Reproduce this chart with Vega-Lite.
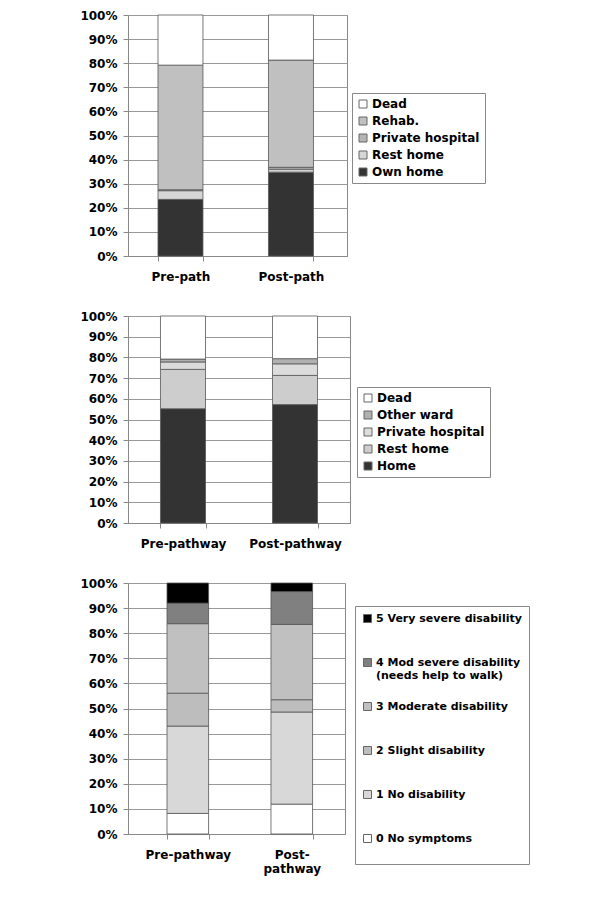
{
  "$schema": "https://vega.github.io/schema/vega-lite/v6.json",
  "background": "white",
  "padding": {"left": 79, "top": 8, "right": 5, "bottom": 5},
  "spacing": 60,
  "bounds": "flush",
  "config": {
    "view": {"stroke": "#888"},
    "axis": {"labelFont": "DejaVu Sans", "labelFontWeight": "bold", "labelFontSize": 12, "labelColor": "#000", "domainColor": "#888", "tickColor": "#888", "gridColor": "#999", "title": null},
    "legend": {"labelFont": "DejaVu Sans", "labelFontWeight": "bold", "labelFontSize": 12, "labelColor": "#000", "symbolType": "square", "symbolSize": 64, "symbolStrokeColor": "#666", "symbolStrokeWidth": 1, "strokeColor": "#888", "padding": 5, "fillColor": "white", "rowPadding": 5, "labelOffset": 3, "orient": "none"}
  },
  "resolve": {"scale": {"color": "independent", "x": "independent"}, "legend": {"color": "independent"}},
  "vconcat": [
    {
      "width": 219, "height": 241,
      "data": {"values": [
        {"period": "Pre-path", "dest": "Own home", "pct": 23.5},
        {"period": "Pre-path", "dest": "Rest home", "pct": 3.6},
        {"period": "Pre-path", "dest": "Private hospital", "pct": 0.4},
        {"period": "Pre-path", "dest": "Rehab.", "pct": 51.7},
        {"period": "Pre-path", "dest": "Dead", "pct": 20.8},
        {"period": "Post-path", "dest": "Own home", "pct": 34.8},
        {"period": "Post-path", "dest": "Rest home", "pct": 1.2},
        {"period": "Post-path", "dest": "Private hospital", "pct": 0.8},
        {"period": "Post-path", "dest": "Rehab.", "pct": 44.5},
        {"period": "Post-path", "dest": "Dead", "pct": 18.7}
      ]},
      "transform": [{"calculate": "indexof(['Own home','Rest home','Private hospital','Rehab.','Dead'], datum.dest)", "as": "rank"}],
      "mark": {"type": "bar", "stroke": "#555", "strokeWidth": 0.8},
      "encoding": {
        "x": {"field": "period", "type": "nominal", "sort": ["Pre-path", "Post-path"], "scale": {"paddingInner": 0.593, "paddingOuter": 0.2875, "align": 0.472},
              "axis": {"labelAngle": 0, "tickBand": "extent", "labelPadding": 10, "tickSize": 5}},
        "y": {"field": "pct", "type": "quantitative", "stack": "normalize",
              "axis": {"format": "%", "values": [0,0.1,0.2,0.3,0.4,0.5,0.6,0.7,0.8,0.9,1], "grid": true, "tickSize": 5, "labelPadding": 6}},
        "color": {"field": "dest", "type": "nominal",
                  "scale": {"domain": ["Dead", "Rehab.", "Private hospital", "Rest home", "Own home"], "range": ["#ffffff", "#c0c0c0", "#b4b4b4", "#d6d6d6", "#333333"]},
                  "legend": {"title": null, "legendX": 224, "legendY": 78}},
        "order": {"field": "rank", "type": "quantitative"}
      }
    },
    {
      "width": 222, "height": 207,
      "data": {"values": [
        {"period": "Pre-pathway", "dest": "Home", "pct": 55.2},
        {"period": "Pre-pathway", "dest": "Rest home", "pct": 19.0},
        {"period": "Pre-pathway", "dest": "Private hospital", "pct": 3.6},
        {"period": "Pre-pathway", "dest": "Other ward", "pct": 1.4},
        {"period": "Pre-pathway", "dest": "Dead", "pct": 20.8},
        {"period": "Post-pathway", "dest": "Home", "pct": 57.2},
        {"period": "Post-pathway", "dest": "Rest home", "pct": 14.1},
        {"period": "Post-pathway", "dest": "Private hospital", "pct": 5.6},
        {"period": "Post-pathway", "dest": "Other ward", "pct": 2.5},
        {"period": "Post-pathway", "dest": "Dead", "pct": 20.6}
      ]},
      "transform": [{"calculate": "indexof(['Home','Rest home','Private hospital','Other ward','Dead'], datum.dest)", "as": "rank"}],
      "mark": {"type": "bar", "stroke": "#555", "strokeWidth": 0.8},
      "encoding": {
        "x": {"field": "period", "type": "nominal", "sort": ["Pre-pathway", "Post-pathway"], "scale": {"paddingInner": 0.598, "paddingOuter": 0.29, "align": 0.5},
              "axis": {"labelAngle": 0, "tickBand": "extent", "labelPadding": 10, "tickSize": 5}},
        "y": {"field": "pct", "type": "quantitative", "stack": "normalize",
              "axis": {"format": "%", "values": [0,0.1,0.2,0.3,0.4,0.5,0.6,0.7,0.8,0.9,1], "grid": true, "tickSize": 5, "labelPadding": 6}},
        "color": {"field": "dest", "type": "nominal",
                  "scale": {"domain": ["Dead", "Other ward", "Private hospital", "Rest home", "Home"], "range": ["#ffffff", "#b0b0b0", "#dcdcdc", "#cdcdcd", "#333333"]},
                  "legend": {"title": null, "legendX": 229, "legendY": 71}},
        "order": {"field": "rank", "type": "quantitative"}
      }
    },
    {
      "width": 217, "height": 251,
      "data": {"values": [
        {"period": "Pre-pathway", "level": 0, "status": "0 No symptoms", "pct": 8.2},
        {"period": "Pre-pathway", "level": 1, "status": "1 No disability", "pct": 34.8},
        {"period": "Pre-pathway", "level": 2, "status": "2 Slight disability", "pct": 13.1},
        {"period": "Pre-pathway", "level": 3, "status": "3 Moderate disability", "pct": 27.7},
        {"period": "Pre-pathway", "level": 4, "status": "4 Mod severe disability", "pct": 8.2},
        {"period": "Pre-pathway", "level": 5, "status": "5 Very severe disability", "pct": 8.0},
        {"period": "Post-pathway", "level": 0, "status": "0 No symptoms", "pct": 11.9},
        {"period": "Post-pathway", "level": 1, "status": "1 No disability", "pct": 36.7},
        {"period": "Post-pathway", "level": 2, "status": "2 Slight disability", "pct": 4.9},
        {"period": "Post-pathway", "level": 3, "status": "3 Moderate disability", "pct": 30.0},
        {"period": "Post-pathway", "level": 4, "status": "4 Mod severe disability", "pct": 13.1},
        {"period": "Post-pathway", "level": 5, "status": "5 Very severe disability", "pct": 3.4}
      ]},
      "mark": {"type": "bar", "stroke": "#555", "strokeWidth": 0.8},
      "encoding": {
        "x": {"field": "period", "type": "nominal", "sort": ["Pre-pathway", "Post-pathway"], "scale": {"paddingInner": 0.6, "paddingOuter": 0.3435, "align": 0.546},
              "axis": {"labelAngle": 0, "tickBand": "extent", "labelPadding": 10, "tickSize": 5, "labelLineHeight": 14,
                       "labelExpr": "datum.label == 'Post-pathway' ? ['Post-', 'pathway'] : datum.label"}},
        "y": {"field": "pct", "type": "quantitative", "stack": "normalize",
              "axis": {"format": "%", "values": [0,0.1,0.2,0.3,0.4,0.5,0.6,0.7,0.8,0.9,1], "grid": true, "tickSize": 5, "labelPadding": 6}},
        "color": {"field": "status", "type": "nominal",
                  "scale": {"domain": ["5 Very severe disability", "4 Mod severe disability", "3 Moderate disability", "2 Slight disability", "1 No disability", "0 No symptoms"], "range": ["#000000", "#808080", "#c0c0c0", "#bdbdbd", "#d8d8d8", "#ffffff"]},
                  "legend": {"title": null, "legendX": 227, "legendY": 23, "labelFontSize": 11, "rowPadding": 19, "padding": 7, "labelLineHeight": 13,
                             "labelExpr": "datum.label == '4 Mod severe disability' ? ['4 Mod severe disability', '(needs help to walk)'] : [datum.label, ' ']"}},
        "order": {"field": "level", "type": "quantitative"}
      }
    }
  ]
}
